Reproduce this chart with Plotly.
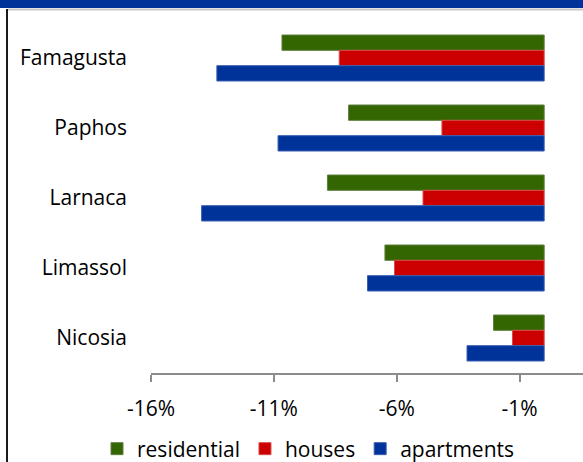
import plotly.graph_objects as go

cities = ["Famagusta", "Paphos", "Larnaca", "Limassol", "Nicosia"]
residential = [-10.67, -7.96, -8.82, -6.48, -2.06]
houses = [-8.34, -4.16, -4.93, -6.09, -1.29]
apartments = [-13.32, -10.83, -13.94, -7.19, -3.14]
tick_vals = [-16, -11, -6, -1, 4]
tick_text = ["-16%", "-11%", "-6%", "-1%", "4%"]
series_names = ["residential", "houses", "apartments"]
colors = ["#336600", "#CC0000", "#003399"]
edges = ["#5f7f3f", "#d94a4a", "#3a5fb0"]

W, H = 583, 462
L, R, T, B = 151, 0, 23, 89
x_range = [-16, 1.58]
FONT = "Open Sans"
FS = 21

fig = go.Figure()
for name, vals, c, e in zip(series_names, [residential, houses, apartments], colors, edges):
    fig.add_trace(go.Bar(
        y=cities, x=vals, name=name, orientation="h",
        marker=dict(color=c, line=dict(color=e, width=1)),
    ))

zero_pos = (0 - x_range[0]) / (x_range[1] - x_range[0])

fig.update_layout(
    width=W, height=H,
    margin=dict(l=L, r=R, t=T, b=B, pad=0),
    paper_bgcolor="white", plot_bgcolor="white",
    barmode="group", bargap=0.343, bargroupgap=0,
    font=dict(family=FONT, size=FS, color="#000000"),
    showlegend=True,
    legend=dict(
        orientation="h", xref="container", yref="container",
        x=97 / W, y=(H - 449) / H, xanchor="left", yanchor="middle",
        font=dict(family=FONT, size=FS, color="#000000"),
        itemwidth=30, bgcolor="rgba(0,0,0,0)",
    ),
    xaxis=dict(
        range=x_range, tickvals=tick_vals, ticktext=tick_text,
        showgrid=False, zeroline=False,
        showline=True, linecolor="#8c8c8c", linewidth=2,
        ticks="outside", ticklen=7, tickwidth=2, tickcolor="#8c8c8c",
        ticklabelstandoff=9,
        tickfont=dict(family=FONT, size=FS, color="#000000"),
    ),
    yaxis=dict(
        range=[4.5, -0.5], type="category",
        showgrid=False, zeroline=False, showline=False,
        ticks="", ticklabelstandoff=23,
        tickfont=dict(family=FONT, size=FS, color="#000000"),
    ),
    yaxis2=dict(
        overlaying="y", anchor="free", position=zero_pos, side="left",
        range=[4.5, -0.5], showgrid=False, zeroline=False,
        showline=True, linecolor="#8c8c8c", linewidth=2,
        ticks="outside", ticklen=9, tickwidth=2, tickcolor="#8c8c8c",
        tickvals=[-0.5, 0.5, 1.5, 2.5, 3.5], showticklabels=False,
    ),
    shapes=[
        dict(type="rect", xref="paper", yref="paper",
             x0=-L / (W - L - R), x1=1, y0=1 + (T - 0) / (H - T - B), y1=1 + (T - 8) / (H - T - B),
             fillcolor="#003399", line=dict(width=0), layer="above"),
        dict(type="line", xref="paper", yref="paper",
             x0=(8 - L) / (W - L - R), x1=1, y0=1 + (T - 9.5) / (H - T - B), y1=1 + (T - 9.5) / (H - T - B),
             line=dict(color="#c8c8c8", width=2)),
        dict(type="line", xref="paper", yref="paper",
             x0=(7 - L) / (W - L - R), x1=(7 - L) / (W - L - R),
             y0=1 + (T - 9) / (H - T - B), y1=-B / (H - T - B),
             line=dict(color="#1a1a1a", width=2)),
    ],
)

fig.write_html("out.html")
